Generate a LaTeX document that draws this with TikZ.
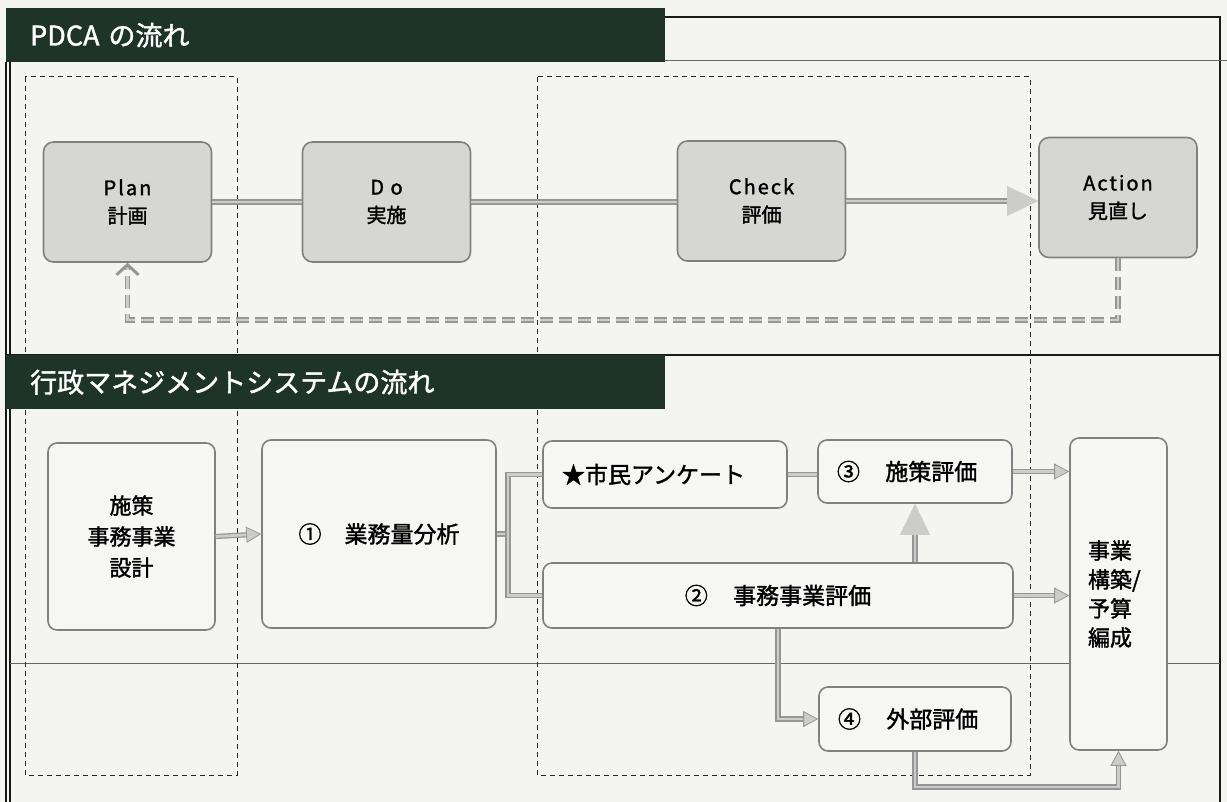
\documentclass[tikz,border=0pt]{standalone}
\usepackage{fontspec}
\setmainfont{Noto Sans CJK JP}[FakeBold=1.5]
\newfontfamily\lsp{Noto Sans CJK JP}[LetterSpace=10,FakeBold=1.5]
\usetikzlibrary{arrows.meta,calc}
\definecolor{paper}{RGB}{244,244,241}
\definecolor{hdrc}{RGB}{30,52,38}
\definecolor{pfill}{RGB}{214,214,211}
\definecolor{sfill}{RGB}{246,246,244}
\definecolor{bord}{RGB}{128,128,128}
\definecolor{cout}{RGB}{150,150,150}
\definecolor{cin}{RGB}{204,204,202}
\tikzset{
  pbox/.style={rounded corners=10pt, fill=pfill, draw=bord, line width=1.6pt, align=center,
    minimum width=168pt, minimum height=120pt, inner sep=0pt, font=\fontsize{20}{28}\selectfont},
  sbox/.style={rounded corners=9pt, fill=sfill, draw=bord, line width=1.6pt, inner sep=0pt,
    font=\fontsize{23}{30}\selectfont},
  hdr/.style={fill=hdrc, text=white, anchor=north west, align=left, text width=611pt,
    inner xsep=24pt, inner ysep=0pt, minimum height=54pt, font=\fontsize{27}{30}\selectfont},
  cline/.style={draw=cout, double=cin, double distance=2.8pt, line width=1.2pt},
  fbline/.style={draw=cout, double=cin, double distance=2.8pt, line width=1.2pt, dash pattern=on 13pt off 6pt},
  region/.style={draw=black!85, line width=1pt, dash pattern=on 5pt off 4pt},
  frame/.style={draw=black!90, line width=1.3pt},
  thinrule/.style={draw=black!60, line width=0.8pt},
  arrS/.tip={Triangle[length=15pt,width=16pt,color=cout,fill=cin,line width=0.8pt]},
  arrB/.tip={Triangle[length=31pt,width=30pt,color=cin,fill=cin,line width=0.6pt]},
  arrC/.tip={Straight Barb[length=10pt,width=22pt,color=cout,line width=3pt]}
}
\begin{document}
\begin{tikzpicture}[x=1pt,y=-1pt]
\fill[paper] (0,0) rectangle (1227,802);
\useasboundingbox (0,0) rectangle (1227,802);

% frame and rules
\draw[frame] (665,17) -- (1220,17) -- (1220,802);
\draw[frame] (6,62) -- (6,802);
\draw[frame] (10,62) -- (10,802);
\draw[thinrule] (665,60) -- (1227,60);
\draw[frame] (6,355) -- (1220,355);
\draw[thinrule] (10,663) -- (1220,663);

% dashed regions
\draw[region] (25,77) rectangle (237,775);
\draw[region] (537,77) rectangle (1030,775);

% headers
\node[hdr] (h1) at (6,8) {PDCA の流れ};
\node[hdr] (h2) at (6,355) {行政マネジメントシステムの流れ};

% PDCA boxes
\node[pbox] (plan) at (127.5,202) {{\lsp Plan}\\計画};
\node[pbox] (do) at (386.5,202) {{\lsp D o}\\実施};
\node[pbox] (check) at (761.5,201) {{\lsp Check}\\評価};
\node[pbox, minimum width=158pt] (action) at (1118,197.5) {{\lsp Action}\\見直し};

\draw[cline] (plan.east) -- (do.west);
\draw[cline] (do.east) -- (do.east -| check.west);
\draw[cline, -arrB] (check.east) -- (check.east -| action.west);
\coordinate (fb) at (127.5,320);
\draw[fbline, -arrC] (action.south) |- (fb) -- (plan.south);

% management system boxes
\node[sbox, minimum width=167pt, minimum height=187pt, align=center, font=\fontsize{22}{31}\selectfont] (sekkei) at (131.5,536.5) {施策\\事務事業\\設計};
\node[sbox, minimum width=234pt, minimum height=188pt] (gyomu) at (379,534) {①\hspace{1em}業務量分析};
\node[sbox, text width=206pt, inner xsep=19pt, minimum height=67pt, align=left] (anketo) at (665,474.5) {★市民アンケート};
\node[sbox, text width=156pt, inner xsep=19pt, minimum height=63pt, align=left] (shisaku) at (915,471.5) {③\hspace{1.1em}施策評価};
\node[sbox, minimum width=470pt, minimum height=65pt] (jimu) at (778,595.5) {②\hspace{1.1em}事務事業評価};
\node[sbox, text width=154pt, inner xsep=19pt, minimum height=64pt, align=left] (gaibu) at (915,719) {④\hspace{1.1em}外部評価};
\node[sbox, text width=61pt, inner xsep=18pt, minimum height=312pt, align=left, font=\fontsize{22}{29}\selectfont] (yosan) at (1118.5,594) {事業\\構築/\\予算\\編成};

% connectors
\draw[cline, -arrS] (sekkei.east) -- (gyomu.west);
\coordinate (br) at (508,534);
\draw[cline] (gyomu.east) -- (br);
\draw[cline] (anketo.west) -| (br) |- (jimu.west);
\draw[cline] (anketo.east) -- (anketo.east -| shisaku.west);
\draw[cline, -arrB] (jimu.north -| shisaku.south) -- (shisaku.south);
\draw[cline, -arrS] (shisaku.east) -- (shisaku.east -| yosan.west);
\draw[cline, -arrS] (jimu.east) -- (jimu.east -| yosan.west);
\draw[cline, -arrS] (jimu.south) |- (gaibu.west);
\coordinate (bt) at (1118.5,787);
\draw[cline, -arrS] (gaibu.south) |- (bt) -- (yosan.south);
\end{tikzpicture}
\end{document}
